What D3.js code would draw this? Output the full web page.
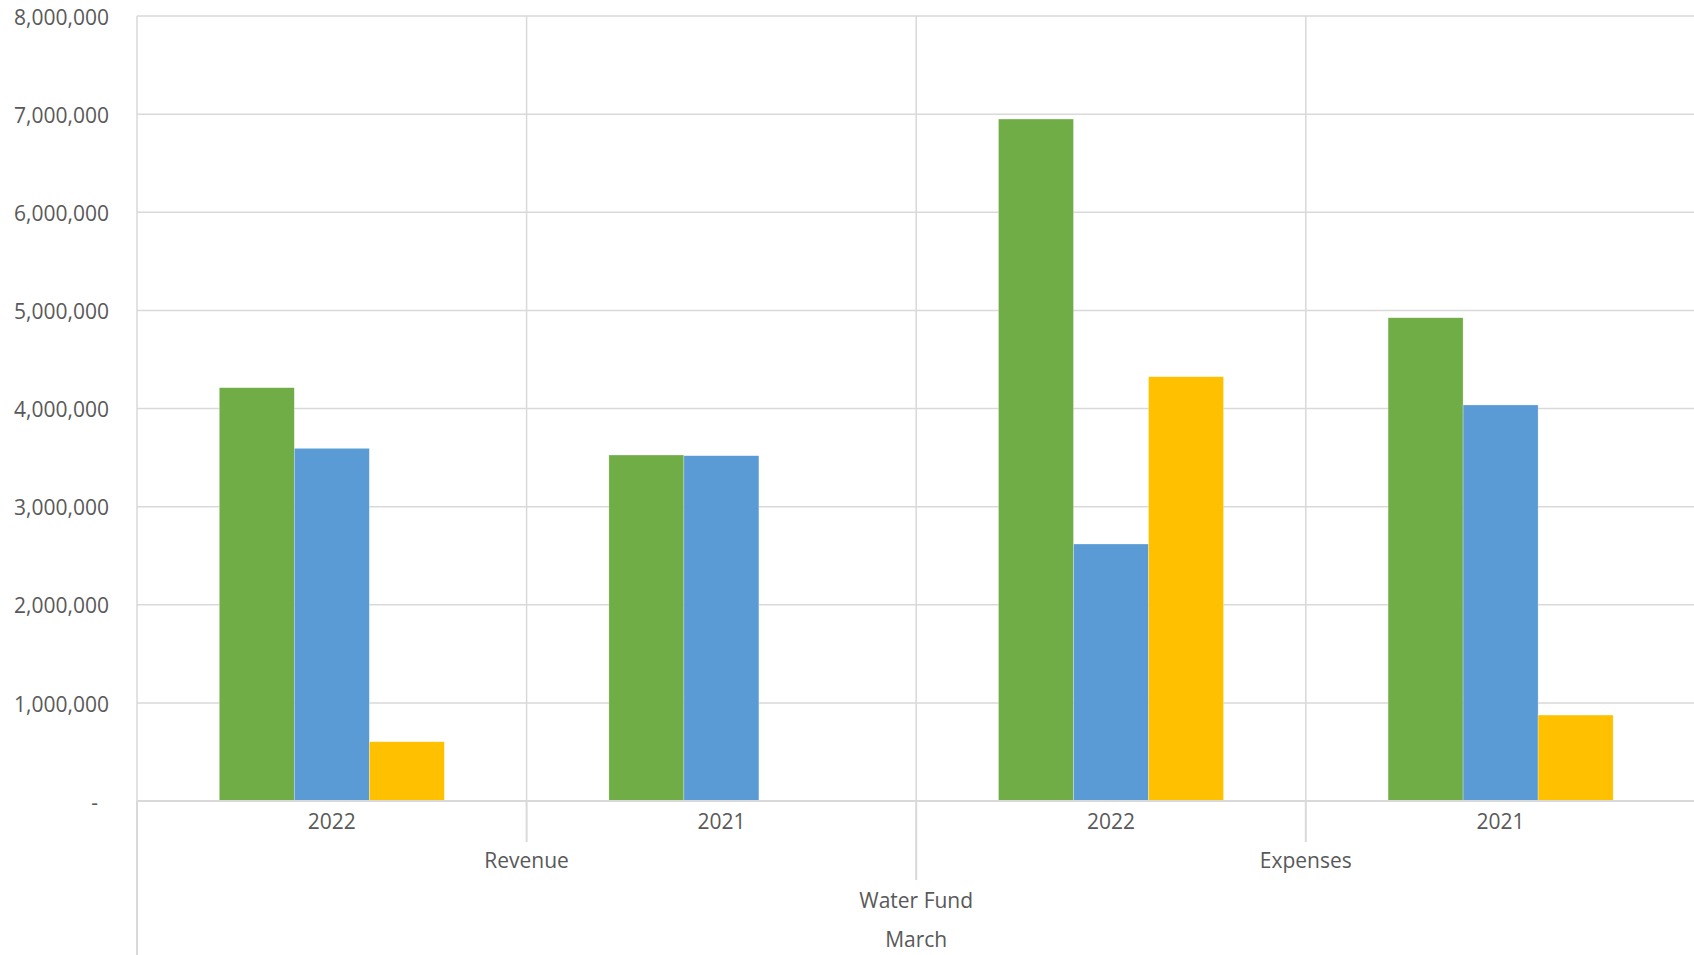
<!DOCTYPE html>
<html>
<head>
<meta charset="utf-8">
<script src="https://cdn.jsdelivr.net/npm/d3@7"></script>
<style>
  html, body { margin: 0; padding: 0; background: #ffffff; }
  svg { display: block; }
  text { font-family: "Open Sans", "Noto Sans", sans-serif; fill: #595959; }
</style>
</head>
<body>
<svg id="chart" width="1694" height="955"></svg>
<script>
// Multi-level category labels
const groups = ["Revenue", "Expenses"];
const years = ["2022", "2021"];
const fundLabel = "Water Fund";
const monthLabel = "March";

// Series values, in category order: Revenue 2022, Revenue 2021, Expenses 2022, Expenses 2021
const seriesNames = ["Series 1", "Series 2", "Series 3"];
const series1 = [4212000, 3526000, 6950000, 4925000];
const series2 = [3594000, 3519000, 2619000, 4036000];
const series3 = [604000, 0, 4324000, 876000];
const seriesColors = ["#70AD47", "#5B9BD5", "#FFC000"];

// Value axis ticks
const yTicks = [0, 1000000, 2000000, 3000000, 4000000, 5000000, 6000000, 7000000, 8000000];

const categories = [];
groups.forEach(g => years.forEach(y => categories.push({ key: g + " " + y, group: g, year: y })));
const allSeries = [series1, series2, series3];
const rows = categories.map((c, i) => ({
  key: c.key,
  values: seriesNames.map((s, j) => ({ name: s, value: allSeries[j][i], color: seriesColors[j] }))
}));

const svg = d3.select("#chart");
const plot = { left: 137, right: 1695.4, top: 16, bottom: 801 };
const gridColor = "#d9d9d9";

const x0 = d3.scaleBand()
  .domain(categories.map(c => c.key))
  .range([plot.left, plot.right])
  .paddingInner(0).paddingOuter(0);

const x1 = d3.scaleBand()
  .domain(seriesNames)
  .range([0, x0.bandwidth()])
  .paddingInner(0)
  .paddingOuter(1.097);

const y = d3.scaleLinear()
  .domain([0, 8000000])
  .range([plot.bottom, plot.top]);

// Horizontal gridlines
svg.append("g")
  .selectAll("line")
  .data(yTicks.filter(v => v > 0))
  .join("line")
  .attr("x1", plot.left).attr("x2", plot.right)
  .attr("y1", d => y(d)).attr("y2", d => y(d))
  .attr("stroke", gridColor).attr("stroke-width", 1.5);

// Vertical gridlines at category boundaries
const boundaries = categories.map(c => x0(c.key)).concat([plot.right]);
svg.append("g")
  .selectAll("line")
  .data(boundaries)
  .join("line")
  .attr("x1", d => d).attr("x2", d => d)
  .attr("y1", plot.top).attr("y2", plot.bottom)
  .attr("stroke", gridColor).attr("stroke-width", 1.5);

// Value axis labels
const yAxis = d3.axisLeft(y)
  .tickValues(yTicks)
  .tickSize(0)
  .tickPadding(28)
  .tickFormat(v => v === 0 ? "-" : d3.format(",")(v));
const yAxisG = svg.append("g")
  .attr("transform", `translate(${plot.left},1.5)`)
  .call(yAxis);
yAxisG.select(".domain").remove();
yAxisG.selectAll("text")
  .style("font-size", "21px")
  .attr("fill", "#595959")
  .attr("dx", d => d === 0 ? -11 : 0);

// Bars
const barGroups = svg.append("g")
  .selectAll("g")
  .data(rows)
  .join("g")
  .attr("transform", d => `translate(${x0(d.key)},0)`);
barGroups.selectAll("rect")
  .data(d => d.values)
  .join("rect")
  .attr("x", d => x1(d.name))
  .attr("width", x1.bandwidth())
  .attr("y", d => y(d.value))
  .attr("height", d => y(0) - y(d.value))
  .attr("fill", d => d.color)
  .attr("stroke", "#ffffff")
  .attr("stroke-opacity", 0.45)
  .attr("stroke-width", 0.6);

// Category axis line
svg.append("line")
  .attr("x1", plot.left).attr("x2", plot.right)
  .attr("y1", plot.bottom).attr("y2", plot.bottom)
  .attr("stroke", gridColor).attr("stroke-width", 2);

// Category axis divider ticks: depth depends on level of the boundary
const tickDepth = (i) => {
  if (i === 0 || i === categories.length) return 955;
  if (categories[i].group !== categories[i - 1].group) return 880;
  return 842;
};
svg.append("g")
  .selectAll("line")
  .data(boundaries.map((b, i) => ({ x: b, depth: tickDepth(i) })))
  .join("line")
  .attr("x1", d => d.x).attr("x2", d => d.x)
  .attr("y1", plot.bottom).attr("y2", d => d.depth)
  .attr("stroke", gridColor).attr("stroke-width", 2);

// Year labels
svg.append("g")
  .selectAll("text")
  .data(categories)
  .join("text")
  .attr("x", d => x0(d.key) + x0.bandwidth() / 2)
  .attr("y", 829)
  .attr("text-anchor", "middle")
  .style("font-size", "21px")
  .text(d => d.year);

// Group labels
svg.append("g")
  .selectAll("text")
  .data(groups)
  .join("text")
  .attr("x", g => {
    const keys = categories.filter(c => c.group === g).map(c => c.key);
    return (x0(keys[0]) + x0(keys[keys.length - 1]) + x0.bandwidth()) / 2;
  })
  .attr("y", 868)
  .attr("text-anchor", "middle")
  .style("font-size", "21px")
  .text(g => g);

// Outer levels
const midX = (plot.left + plot.right) / 2;
svg.append("text")
  .attr("x", midX).attr("y", 908)
  .attr("text-anchor", "middle")
  .style("font-size", "21px")
  .text(fundLabel);
svg.append("text")
  .attr("x", midX).attr("y", 947)
  .attr("text-anchor", "middle")
  .style("font-size", "21px")
  .text(monthLabel);
</script>
</body>
</html>
